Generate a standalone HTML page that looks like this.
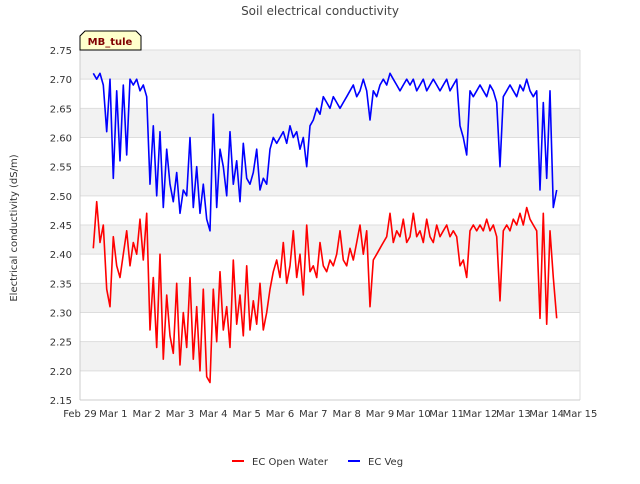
<!DOCTYPE html>
<html><head><meta charset="utf-8"><style>
body{margin:0;background:#fff;font-family:"DejaVu Sans","Liberation Sans",sans-serif}
</style></head><body>
<svg id="chart" width="640" height="480" xmlns="http://www.w3.org/2000/svg" font-family="DejaVu Sans, Liberation Sans, sans-serif">
<text x="320" y="15" text-anchor="middle" font-size="12" fill="#444">Soil electrical conductivity</text>
<text transform="translate(17,228) rotate(-90)" text-anchor="middle" font-size="10" fill="#333">Electrical conductivity (dS/m)</text>
<g id="grid"></g>
<g id="series"></g>
<g id="axes"></g>
<g>
<path d="M80,50 L80,36 L85,31 L136,31 L141,36 L141,50 Z" fill="#ffffcc" stroke="#000" stroke-width="1"/>
<text x="110" y="45" text-anchor="middle" font-size="10" font-weight="bold" fill="#800000">MB_tule</text>
</g>
<g>
<g><line x1="232" y1="461" x2="244" y2="461" stroke="#f00" stroke-width="2"/><text x="252" y="465" font-size="10" fill="#333">EC Open Water</text></g>
<g><line x1="348" y1="461" x2="360" y2="461" stroke="#00f" stroke-width="2"/><text x="368" y="465" font-size="10" fill="#333">EC Veg</text></g>
</g>
</svg>
<script>
const xTickLabels=["Feb 29","Mar 1","Mar 2","Mar 3","Mar 4","Mar 5","Mar 6","Mar 7","Mar 8","Mar 9","Mar 10","Mar 11","Mar 12","Mar 13","Mar 14","Mar 15"];
const yTicks=[2.15,2.20,2.25,2.30,2.35,2.40,2.45,2.50,2.55,2.60,2.65,2.70,2.75];
const startDay=0.4, stepDay=0.1;
const ecVeg=[2.71,2.70,2.71,2.69,2.61,2.70,2.53,2.68,2.56,2.69,2.57,2.70,2.69,2.70,2.68,2.69,
2.67,2.52,2.62,2.50,2.61,2.48,2.58,2.52,2.49,2.54,2.47,2.51,2.50,2.60,2.48,2.55,2.47,2.52,2.46,2.44,
2.64,2.48,2.58,2.55,2.50,2.61,2.52,2.56,2.49,2.59,2.53,2.52,2.54,2.58,2.51,2.53,2.52,2.58,2.60,2.59,
2.60,2.61,2.59,2.62,2.60,2.61,2.58,2.60,2.55,2.62,2.63,2.65,2.64,2.67,2.66,2.65,2.67,2.66,2.65,2.66,
2.67,2.68,2.69,2.67,2.68,2.70,2.68,2.63,2.68,2.67,2.69,2.70,2.69,2.71,2.70,2.69,2.68,2.69,2.70,2.69,
2.70,2.68,2.69,2.70,2.68,2.69,2.70,2.69,2.68,2.69,2.70,2.68,2.69,2.70,2.62,2.60,2.57,2.68,2.67,2.68,
2.69,2.68,2.67,2.69,2.68,2.66,2.55,2.67,2.68,2.69,2.68,2.67,2.69,2.68,2.70,2.68,2.67,2.68,2.51,2.66,
2.53,2.68,2.48,2.51];
const ecOpenWater=[2.41,2.49,2.42,2.45,2.34,2.31,2.43,2.38,2.36,2.40,2.44,2.38,2.42,2.40,2.46,2.39,
2.47,2.27,2.36,2.24,2.40,2.22,2.33,2.26,2.23,2.35,2.21,2.30,2.24,2.36,2.22,2.31,2.20,2.34,2.19,2.18,
2.34,2.25,2.37,2.27,2.31,2.24,2.39,2.28,2.33,2.26,2.38,2.27,2.32,2.28,2.35,2.27,2.30,2.34,2.37,2.39,
2.36,2.42,2.35,2.38,2.44,2.36,2.40,2.33,2.45,2.37,2.38,2.36,2.42,2.38,2.37,2.39,2.38,2.40,2.44,2.39,
2.38,2.41,2.39,2.42,2.45,2.40,2.44,2.31,2.39,2.40,2.41,2.42,2.43,2.47,2.42,2.44,2.43,2.46,2.42,2.43,
2.47,2.43,2.44,2.42,2.46,2.43,2.42,2.45,2.43,2.44,2.45,2.43,2.44,2.43,2.38,2.39,2.36,2.44,2.45,2.44,
2.45,2.44,2.46,2.44,2.45,2.43,2.32,2.44,2.45,2.44,2.46,2.45,2.47,2.45,2.48,2.46,2.45,2.44,2.29,2.47,
2.28,2.44,2.36,2.29];
const NS="http://www.w3.org/2000/svg";
const X0=80,X1=580,Y0=400,Y1=50,yMin=2.15,yMax=2.75,days=15;
const xs=d=>X0+(X1-X0)*d/days;
const ys=v=>Y0-(Y0-Y1)*(v-yMin)/(yMax-yMin);
const grid=document.getElementById('grid'),axes=document.getElementById('axes'),series=document.getElementById('series');
function mk(t,a,p){const e=document.createElementNS(NS,t);for(const k in a)e.setAttribute(k,a[k]);p.appendChild(e);return e;}
for(let i=0;i<yTicks.length-1;i++){
  if((yTicks.length-2-i)%2===0){
    const b=mk('rect',{x:X0,y:ys(yTicks[i+1]),width:X1-X0,height:ys(yTicks[i])-ys(yTicks[i+1]),fill:'#f2f2f2'},grid);
    
    
  }
}
yTicks.forEach(v=>{
  const l=mk('line',{x1:X0,x2:X1,y1:ys(v),y2:ys(v),stroke:'#ddd','stroke-width':1},grid);
  
  
  const t=mk('text',{x:X0-8,y:ys(v)+4,'text-anchor':'end','font-size':10,fill:'#333'},axes);
  t.textContent=v.toFixed(2);
  
  
});
const ax=mk('line',{x1:X0,x2:X0,y1:Y1,y2:Y0,stroke:'#ccc'},axes);


const ax2=mk('line',{x1:X1,x2:X1,y1:Y1,y2:Y0,stroke:'#ddd'},axes);


const ax3=mk('line',{x1:X0,x2:X1,y1:Y0,y2:Y0,stroke:'#ccc'},axes);


xTickLabels.forEach((s,i)=>{
  const t=mk('text',{x:xs(i),y:417,'text-anchor':'middle','font-size':10,fill:'#333'},axes);
  t.textContent=s;
  
  
});
function line(arr,color,name){
  const pts=arr.map((v,i)=>xs(startDay+i*stepDay).toFixed(1)+','+ys(v).toFixed(1)).join(' ');
  const p=mk('polyline',{points:pts,fill:'none',stroke:color,'stroke-width':1.6,'stroke-linejoin':'round'},series);
  
  
}
line(ecOpenWater,'#ff0000','ec-open-water-line');
line(ecVeg,'#0000ff','ec-veg-line');
</script>
</body></html>
